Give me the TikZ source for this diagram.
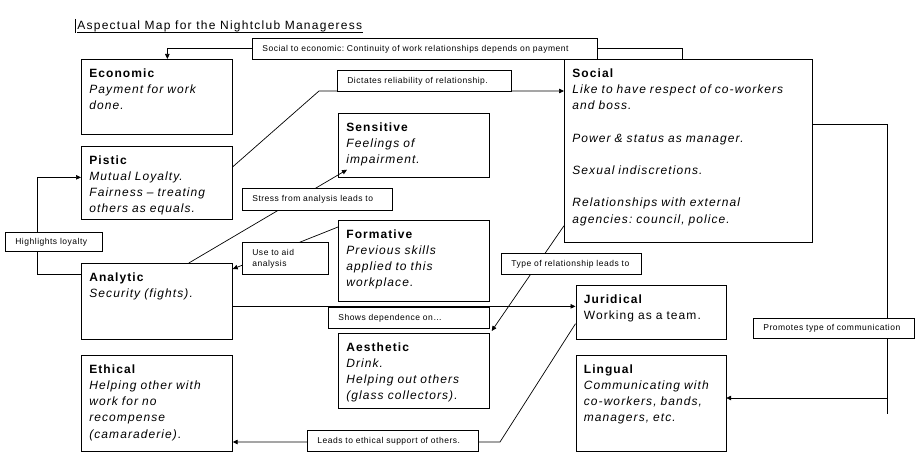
\documentclass[tikz,border=0pt]{standalone}
\usepackage{fontspec}
\usepackage{tikz}
\usetikzlibrary{arrows.meta}
\newfontfamily\boxfont[LetterSpace=9, WordSpace=1.5]{Liberation Sans}
\newfontfamily\labfont[LetterSpace=6]{Liberation Sans}
\newfontfamily\titlefont[LetterSpace=10.5]{Liberation Sans}
\frenchspacing

\begin{document}
\begin{tikzpicture}[x=1pt, y=-1pt, line width=0.7pt,
  aspect/.style={draw, anchor = north west, align=left, text width=135pt, inner xsep=8pt, inner ysep=0pt, text height=18pt, text depth={#1-18pt}, font=\boxfont\fontsize{12}{16.2}\selectfont},
  link/.style={draw, fill=white, anchor = north west, align=left, text width=#1, inner xsep=10pt, inner ysep=0pt, minimum height=21pt, font=\labfont\fontsize{8.5}{11}\selectfont},
  arr/.style={-{Triangle[length=5pt, width=4.5pt]}}]
\useasboundingbox (0,0) rectangle (923,462);
\node[anchor = base west, inner sep=0pt, font=\titlefont\fontsize{12}{14}\selectfont] (title) at (77,29.5) {Aspectual Map for the Nightclub Manageress};
\draw[line width=0.6pt] ([yshift=-2.4pt]title.base west) -- ([yshift=-2.4pt]title.base east);
\draw (75.5,19) -- (75.5,33);

\node[aspect=75pt] (eco) at (81,59) {\textbf{Economic}\\ \itshape Payment for work\\ done.};
\node[aspect=73pt] (pis) at (81,146) {\textbf{Pistic}\\ \itshape Mutual Loyalty.\\ Fairness – treating\\ others as equals.};
\node[aspect=76pt] (ana) at (81,263) {\textbf{Analytic}\\ \itshape Security (fights).};
\node[aspect=96pt] (eth) at (81,355) {\textbf{Ethical}\\ \itshape Helping other with\\ work for no\\ recompense\\ (camaraderie).};
\node[aspect=64pt] (sen) at (338,113) {\textbf{Sensitive}\\ \itshape Feelings of\\ impairment.};
\node[aspect=81pt] (form) at (338,220) {\textbf{Formative}\\ \itshape Previous skills\\ applied to this\\ workplace.};
\node[aspect=75pt] (aes) at (338,333) {\textbf{Aesthetic}\\ \itshape Drink.\\ Helping out others\\ (glass collectors).};
\node[aspect=183pt, text width=232pt] (soc) at (564,59) {\textbf{Social}\\ \itshape Like to have respect of co-workers\\ and boss.\\[16.2pt] Power \& status as manager.\\[16.2pt] Sexual indiscretions.\\[16.2pt] Relationships with external\\ agencies: council, police.};
\node[aspect=54pt, text width=134pt] (jur) at (575.5,285) {\textbf{Juridical}\\ Working as a team.};
\node[aspect=96pt, text width=134pt] (lin) at (575.5,355) {\textbf{Lingual}\\ \itshape Communicating with\\ co-workers, bands,\\ managers, etc.};

\draw[arr] ([xshift=-6pt]soc.north) -- ++(0,-11) -| ([xshift=10.5pt]eco.north);
\coordinate (dictbend) at (319,91);
\draw[arr] ([yshift=16pt]pis.east) -- (dictbend) -- (dictbend -| soc.west);
\draw[arr] ([xshift=32pt]ana.north) -- ([shift={(9pt,8pt)}]sen.south west);
\draw[arr] ([yshift=-7pt]form.north west) -- ([yshift=-6pt]ana.north east);
\draw[arr] ([yshift=-11pt]ana.north west) -- ++(-44,0) |- ([yshift=5.5pt]pis.west);
\draw[arr] ([yshift=17pt]soc.south west) -- ([shift={(2pt,2pt)}]aes.north east);
\coordinate (showstart) at ([yshift=-5pt]ana.east);
\draw[arr] (showstart) -- (showstart -| jur.west);
\coordinate (ethbend) at (500,442);
\draw[arr] ([yshift=16pt]jur.south west) -- (ethbend) -- (ethbend -| eth.east);
\coordinate (promend) at (887,414);
\coordinate (promjoin) at (887,398);
\draw ([yshift=26.5pt]soc.east) -| (promend);
\draw[arr] (promjoin) -- (promjoin -| lin.east);

\node[link=325pt] (socecon) at (252,38) {Social to economic: Continuity of work relationships depends on payment};
\node[link=154pt] (dictates) at (337,70) {Dictates reliability of relationship.};
\node[link=130pt, minimum height=22pt] (stress) at (242,188) {Stress from analysis leads to};
\node[link=66pt, minimum height=32pt] (useaid) at (242,242) {Use to aid\\ analysis};
\node[link=77pt, minimum height=19pt] (highlights) at (5,232) {Highlights loyalty};
\node[link=120pt] (typerel) at (501,253) {Type of relationship leads to};
\node[link=141pt] (shows) at (328,307) {Shows dependence on…};
\node[link=141pt, minimum height=20pt] (promotes) at (753,318) {Promotes type of communication};
\node[link=151pt] (leads) at (307,430) {Leads to ethical support of others.};
\end{tikzpicture}
\end{document}
